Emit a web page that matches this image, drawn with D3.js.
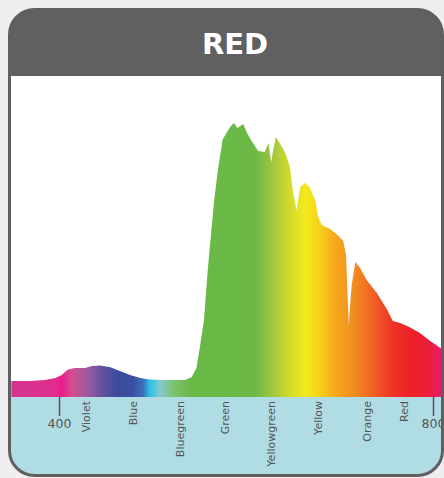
<!DOCTYPE html>
<html lang="en">
<head>
  <meta charset="utf-8">
  <title>RED spectrum</title>
  <script src="https://cdnjs.cloudflare.com/ajax/libs/d3/7.8.5/d3.min.js"></script>
  <style type="text/css">
  body {
    margin: 0;
    background: #efefef;
  }
  #chart {
    display: block;
  }
  .title {
    font-family: 'DejaVu Sans';
    font-weight: bold;
    font-size: 29px;
    fill: #fff;
  }
  .band, .tick text {
    font-family: 'DejaVu Sans';
    fill: #555;
  }
  </style>
</head>
<body>
  <svg id="chart"></svg>
  <script type="text/javascript">
  // spectrum: wavelength (nm) and relative intensity
  var wavelengths = [349, 369, 385, 396, 403, 409, 417, 428, 435, 444, 455, 465, 476, 487, 497, 513,
    535, 542, 547, 551, 555, 559, 563, 566, 570, 575, 583, 587, 591, 597, 601, 606, 613, 620, 624, 627,
    629, 632, 636, 642, 647, 650, 654, 658, 663, 668, 674, 677, 681, 690, 698, 704, 707, 708, 710, 711,
    713, 717, 722, 729, 740, 751, 757, 765, 775, 786, 797, 808, 812];
  var intensity = [0.058, 0.058, 0.062, 0.069, 0.080, 0.099, 0.106, 0.106, 0.113, 0.115, 0.109, 0.095,
    0.080, 0.069, 0.064, 0.062, 0.062, 0.073, 0.106, 0.19, 0.28, 0.46, 0.61, 0.72, 0.83, 0.94, 0.985,
    1.0, 0.982, 0.996, 0.964, 0.934, 0.898, 0.894, 0.927, 0.858, 0.901, 0.949, 0.927, 0.891, 0.839,
    0.755, 0.682, 0.766, 0.781, 0.766, 0.719, 0.66, 0.628, 0.613, 0.591, 0.569, 0.518, 0.427, 0.259,
    0.318, 0.409, 0.493, 0.471, 0.427, 0.380, 0.318, 0.277, 0.270, 0.255, 0.234, 0.204, 0.179, 0.164];

  var tickValues = [400, 800];
  var bandNames = ["Violet", "Blue", "Bluegreen", "Green", "Yellowgreen", "Yellow", "Orange", "Red"];
  var bandPos = [429, 479.5, 529.5, 577.5, 627, 677, 730, 769];

  // colour of the fill along the wavelength axis
  var stopNm = [349, 396, 403, 414, 431, 446, 463, 479, 490, 497, 508, 524, 540, 610, 628, 647, 663,
    679, 695, 717, 735, 756, 778, 797, 810];
  var stopColor = ["#d43590", "#e02e8e", "#ec1a8c", "#d4508f", "#9c5aa0", "#64509e", "#3a4b9c",
    "#3b4fa2", "#3d6fb8", "#2cc0ea", "#86c8cf", "#7cc26a", "#69b947", "#6cb946", "#a0c63f", "#d2db2b",
    "#f3e91e", "#f7d11a", "#f6a91c", "#f38a21", "#f06224", "#ee3525", "#ed1e26", "#ea1f40", "#e71a70"];

  var w = 444;
  var h = 478;
  var frame = {x: 9.5, y: 9.5, w: 433, h: 466, r: 25};
  var headerBottom = 76;
  var base = 397;

  var svg = d3.select("#chart")
    .attr("width", w)
    .attr("height", h);

  var x = d3.scaleLinear().domain([400, 800]).range([59, 433]);
  var y = d3.scaleLinear().domain([0, 1]).range([base, 123]);

  var defs = svg.append("defs");
  defs.append("clipPath")
    .attr("id", "frameClip")
    .append("rect")
    .attr("x", frame.x).attr("y", frame.y)
    .attr("width", frame.w).attr("height", frame.h)
    .attr("rx", frame.r);

  var grad = defs.append("linearGradient")
    .attr("id", "spectrum")
    .attr("gradientUnits", "userSpaceOnUse")
    .attr("x1", x(stopNm[0])).attr("x2", x(stopNm[stopNm.length - 1]))
    .attr("y1", 0).attr("y2", 0);
  var span = stopNm[stopNm.length - 1] - stopNm[0];
  grad.selectAll("stop")
    .data(stopNm)
    .enter()
    .append("stop")
    .attr("offset", function(d) { return (d - stopNm[0]) / span; })
    .attr("stop-color", function(d, i) { return stopColor[i]; });

  var inner = svg.append("g").attr("clip-path", "url(#frameClip)");

  // header, plot area, axis band
  inner.append("rect")
    .attr("x", 0).attr("y", 0).attr("width", w).attr("height", headerBottom)
    .attr("fill", "#606060");
  inner.append("rect")
    .attr("x", 0).attr("y", headerBottom).attr("width", w).attr("height", base - headerBottom)
    .attr("fill", "#fff");
  inner.append("rect")
    .attr("x", 0).attr("y", base).attr("width", w).attr("height", h - base)
    .attr("fill", "#b0dde4");

  var area = d3.area()
    .x(function(d) { return x(d); })
    .y0(base)
    .y1(function(d, i) { return y(intensity[i]); });

  inner.append("path")
    .datum(wavelengths)
    .attr("d", area)
    .attr("fill", "url(#spectrum)");

  // wavelength ticks
  var axis = inner.append("g")
    .attr("transform", "translate(0," + base + ")")
    .call(d3.axisBottom(x).tickValues(tickValues).tickSize(19).tickPadding(3));
  axis.select(".domain").remove();
  axis.selectAll(".tick line").attr("stroke", "#555").attr("stroke-width", 1.5);
  axis.selectAll(".tick text").attr("font-size", 12.5).attr("font-family", "DejaVu Sans").attr("fill", "#555");

  // colour names
  inner.selectAll(".band")
    .data(bandNames)
    .enter()
    .append("text")
    .attr("class", "band")
    .attr("transform", function(d, i) { return "translate(" + x(bandPos[i]) + "," + (base + 4) + ") rotate(-90)"; })
    .attr("dy", "0.35em")
    .attr("text-anchor", "end")
    .attr("font-size", 11)
    .text(function(d) { return d; });

  // border
  svg.append("rect")
    .attr("x", frame.x).attr("y", frame.y)
    .attr("width", frame.w).attr("height", frame.h)
    .attr("rx", frame.r)
    .attr("fill", "none")
    .attr("stroke", "#5f5f5f")
    .attr("stroke-width", 3);

  svg.append("text")
    .attr("class", "title")
    .attr("x", 235)
    .attr("y", 54)
    .attr("text-anchor", "middle")
    .text("RED");
  </script>
</body>
</html>
